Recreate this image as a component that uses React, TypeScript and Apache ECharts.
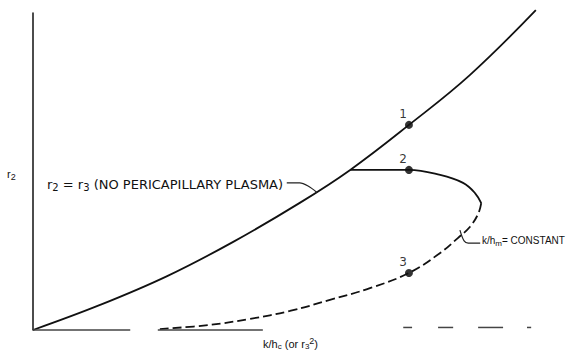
import React, { useEffect, useRef } from "react";
import * as echarts from "echarts";

// Schematic coordinates (arbitrary units, 0..10 on both axes)
const mainX = [0, 1.29, 2.58, 3.85, 5.13, 6.1, 7.23, 8.4, 9.67];
const mainY = [0, 0.79, 1.7, 2.78, 4.01, 5.05, 6.47, 8.04, 10.09];

const loopSolidX = [6.1, 7.23, 7.83, 8.27, 8.5, 8.62];
const loopSolidY = [5.05, 5.05, 4.89, 4.64, 4.32, 4.0];

const loopDashX = [8.62, 8.56, 8.4, 8.17, 7.83, 7.23, 6.48, 5.71, 4.94, 4.17, 3.4, 2.44];
const loopDashY = [4.0, 3.66, 3.25, 2.9, 2.43, 1.8, 1.32, 0.95, 0.6, 0.35, 0.16, 0.03];

const leaderAX = [4.88, 5.13, 5.29, 5.46];
const leaderAY = [4.64, 4.64, 4.54, 4.34];
const leaderBX = [8.21, 8.29, 8.37, 8.6];
const leaderBY = [3.15, 2.81, 2.74, 2.74];

// baseline fragments [x0, x1, y]
const baseSegments = [
  [0, 1.87, 0],
  [2.4, 4.42, 0],
  [7.12, 7.29, 0.08],
  [7.79, 8.08, 0.08],
  [8.56, 9.04, 0.08],
  [9.5, 9.58, 0.08],
];

const pointNames = ["1", "2", "3"];
const pointX = [7.23, 7.23, 7.23];
const pointY = [6.47, 5.05, 1.8];

const zip = (xs: number[], ys: number[]) => xs.map((x, i) => [x, ys[i]]);

const FONT = "'Liberation Sans', Arial, sans-serif";
const WIDE = "'DejaVu Sans', sans-serif";

export default function App() {
  const ref = useRef<HTMLDivElement>(null);
  useEffect(() => {
    if (!ref.current) return;
    const chart = echarts.init(ref.current, undefined, { renderer: "svg" });
    const lineBase = {
      type: "line" as const,
      showSymbol: false,
      symbol: "none",
      clip: false,
      silent: true,
    };
    const series: any[] = [
      { ...lineBase, data: zip(mainX, mainY), smooth: 0.4, lineStyle: { color: "#111", width: 1.8 } },
      { ...lineBase, data: zip(loopSolidX, loopSolidY), smooth: 0.4, lineStyle: { color: "#111", width: 1.8 } },
      {
        ...lineBase,
        data: zip(loopDashX, loopDashY),
        smooth: 0.4,
        lineStyle: { color: "#111", width: 1.8, type: [9, 4] },
      },
      { ...lineBase, data: zip(leaderAX, leaderAY), smooth: 0.3, lineStyle: { color: "#222", width: 1.2 } },
      { ...lineBase, data: zip(leaderBX, leaderBY), smooth: 0.3, lineStyle: { color: "#222", width: 1.2 } },
      ...baseSegments.map((s) => ({
        ...lineBase,
        data: [
          [s[0], s[2]],
          [s[1], s[2]],
        ],
        lineStyle: { color: "#444", width: 1.5 },
      })),
      {
        type: "scatter",
        symbol: "circle",
        symbolSize: 8,
        itemStyle: { color: "#000" },
        data: pointNames.map((n, i) => ({ name: n, value: [pointX[i], pointY[i]] })),
        label: {
          show: true,
          formatter: (p: any) => p.name,
          position: "top",
          distance: 1,
          offset: [-6, 0],
          fontFamily: WIDE,
          fontSize: 12,
          color: "#000",
        },
      },
    ];
    chart.setOption({
      animation: false,
      backgroundColor: "#fff",
      grid: { left: 33, right: 28, top: 13, bottom: 23 },
      xAxis: {
        type: "value",
        min: 0,
        max: 10,
        axisLine: { show: false },
        axisTick: { show: false },
        axisLabel: { show: false },
        splitLine: { show: false },
      },
      yAxis: {
        type: "value",
        min: 0,
        max: 10,
        axisLine: { show: true, lineStyle: { color: "#111", width: 1.5 } },
        axisTick: { show: false },
        axisLabel: { show: false },
        splitLine: { show: false },
      },
      series,
      graphic: [
        {
          type: "text",
          left: 7,
          top: 167,
          style: {
            text: "{m|r}{s|2}",
            rich: {
              m: { fontFamily: FONT, fontSize: 11, lineHeight: 14, fill: "#111" },
              s: { fontFamily: FONT, fontSize: 9, lineHeight: 14, padding: [5, 0, 0, 0], fill: "#111" },
            },
          },
        },
        {
          type: "text",
          left: 47,
          top: 176,
          style: {
            text: "{m|r}{s|2}{m| = r}{s|3}{m| (NO PERICAPILLARY PLASMA)}",
            rich: {
              m: { fontFamily: WIDE, fontSize: 13, lineHeight: 16, fill: "#111" },
              s: { fontFamily: WIDE, fontSize: 10, lineHeight: 16, padding: [6, 0, 0, 0], fill: "#111" },
            },
          },
        },
        {
          type: "text",
          left: 482,
          top: 234,
          style: {
            text: "{m|k/h}{s|m}{m|= CONSTANT}",
            rich: {
              m: { fontFamily: FONT, fontSize: 10, lineHeight: 13, fill: "#111" },
              s: { fontFamily: FONT, fontSize: 8, lineHeight: 13, padding: [5, 0, 0, 0], fill: "#111" },
            },
          },
        },
        {
          type: "text",
          left: 263,
          top: 336,
          style: {
            text: "{m|k/h}{s|c}{m| (or r}{s|3}{p|2}{m|)}",
            rich: {
              m: { fontFamily: FONT, fontSize: 11, lineHeight: 14, fill: "#111" },
              s: { fontFamily: FONT, fontSize: 8, lineHeight: 14, padding: [6, 0, 0, 0], fill: "#111" },
              p: { fontFamily: FONT, fontSize: 9, lineHeight: 14, padding: [0, 0, 6, 0], fill: "#111" },
            },
          },
        },
      ],
    });
    return () => chart.dispose();
  }, []);
  return (
    <div
      ref={ref}
      style={{ position: "fixed", left: 0, top: 0, width: 581, height: 353, background: "#fff" }}
    />
  );
}
